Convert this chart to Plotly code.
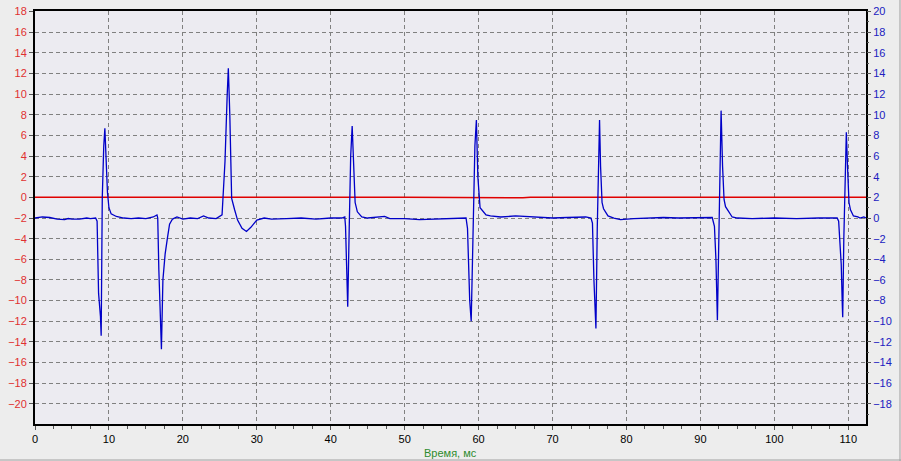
import plotly.graph_objects as go

# Blue signal (right axis units), time in ms
blue_t = [0, 1, 2, 3, 4, 4.5, 5, 6, 7, 7.5, 8.2,
          8.4, 8.6, 8.85, 8.95, 9.1, 9.3, 9.45, 9.6, 9.8, 10.0, 10.3, 11.0, 12, 13, 14, 15, 16, 16.5,
          16.6, 16.75, 16.9, 17.1, 17.3, 17.6, 17.9, 18.2, 18.6, 19.2, 20, 21, 22, 22.8, 23.5, 24.5, 25.3,
          25.45, 25.7, 26.0, 26.15, 26.35, 26.6, 27.0, 27.4, 28.0, 28.6, 29.2, 30.0, 31, 32, 34, 36, 38, 40, 41.5, 41.9,
          42.0, 42.15, 42.3, 42.5, 42.7, 42.9, 43.1, 43.3, 43.6, 44.2, 45, 47.3, 48, 50, 52, 54, 56, 58.3,
          58.5, 58.8, 59.0, 59.2, 59.5, 59.7, 59.9, 60.2, 61.0, 61.6, 63, 65, 68, 70, 72, 74.5, 75.2,
          75.4, 75.6, 75.87, 76.05, 76.25, 76.36, 76.5, 76.7, 76.9, 77.5, 78.3, 79.2, 81, 83, 85, 87, 89, 91.6,
          91.9, 92.1, 92.3, 92.5, 92.65, 92.8, 93.0, 93.2, 93.4, 94.3, 95, 97, 100, 103, 106, 108.5,
          108.7, 108.9, 109.05, 109.2, 109.25, 109.4, 109.6, 109.74, 109.9, 110.1, 110.3, 110.7, 111.3, 111.6, 112.1, 112.4]
blue_v = [0.0, 0.1, 0.05, -0.1, -0.15, -0.05, -0.1, -0.1, 0.0, -0.05, 0.0,
          -0.3, -7.3, -9.5, -11.4, 2.0, 7.0, 8.7, 6.0, 2.5, 1.0, 0.4, 0.15, 0.0, -0.05, 0.0, -0.05, 0.1, 0.3,
          0.0, -5.0, -9.0, -12.7, -6.0, -3.5, -2.0, -0.6, -0.1, 0.1, -0.1, 0.0, -0.05, 0.2, 0.0, -0.05, 0.3,
          2.0, 5.5, 12.0, 14.5, 10.0, 1.9, 0.8, -0.2, -1.0, -1.3, -0.9, -0.2, 0.0, -0.1, -0.05, 0.0, -0.1, 0.0, 0.0, 0.1,
          -0.8, -6.0, -8.6, -1.0, 6.0, 8.9, 5.0, 1.5, 0.6, 0.1, 0.0, 0.15, -0.05, -0.05, -0.15, -0.1, -0.1, 0.0,
          -1.0, -8.0, -10.0, -3.0, 7.0, 9.5, 4.0, 1.0, 0.3, 0.2, 0.1, 0.2, 0.1, 0.0, 0.05, 0.1, 0.0,
          -0.5, -6.0, -10.7, -1.0, 7.0, 9.5, 5.0, 1.5, 0.9, 0.2, 0.0, -0.15, -0.05, 0.0, 0.05, 0.0, 0.05, 0.05,
          -0.8, -4.0, -9.9, -2.0, 6.0, 10.4, 5.0, 1.8, 1.1, 0.1, 0.0, -0.05, 0.0, -0.05, 0.0, 0.0,
          -0.3, -3.4, -4.5, -8.6, -9.6, -2.0, 5.0, 8.3, 5.0, 1.5, 0.8, 0.2, 0.1, 0.0, 0.1, 0.0]

# Red signal (left axis units)
red_t = [0, 13.8, 14.0, 30, 50, 66, 67, 85, 100, 112.4]
red_v = [0.0, 0.0, 0.05, 0.0, 0.0, -0.03, 0.0, 0.0, 0.0, 0.0]

x_ticks = [0, 10, 20, 30, 40, 50, 60, 70, 80, 90, 100, 110]
x_title = "Время, мс"

fig = go.Figure()
fig.add_trace(go.Scatter(x=red_t, y=red_v, mode="lines",
                         line=dict(color="#E00000", width=1.5), yaxis="y", showlegend=False))
fig.add_trace(go.Scatter(x=blue_t, y=blue_v, mode="lines",
                         line=dict(color="#0000C8", width=1.3), yaxis="y2", showlegend=False))

font = dict(family="Liberation Sans, Arial, sans-serif", size=11)

fig.update_layout(
    width=901, height=461,
    margin=dict(l=35, r=35, t=11, b=37, autoexpand=False),
    paper_bgcolor="#EDEDED",
    plot_bgcolor="#ECEBF1",
    font=font,
    xaxis=dict(range=[0, 112.4], tickvals=x_ticks, showgrid=True, gridcolor="#808080",
               griddash="4px,3px", gridwidth=1, showline=True, linecolor="black", linewidth=2,
               mirror=True, ticks="outside", ticklen=4, tickcolor="#555555", automargin=False,
               minor=dict(dtick=2.5, tick0=0, ticks="outside", ticklen=3, tickcolor="#555555", showgrid=False),
               tickfont=dict(color="black", size=11), zeroline=False),
    yaxis=dict(range=[-21.95, 18.05], dtick=2, tick0=0, showgrid=True, gridcolor="#808080",
               griddash="4px,3px", gridwidth=1, showline=True, linecolor="black", linewidth=2,
               mirror=True, ticks="outside", ticklen=4, tickcolor="#555555", automargin=False,
               tickfont=dict(color="#E03030", size=11), zeroline=False),
    yaxis2=dict(range=[-19.95, 20.05], dtick=2, tick0=0, overlaying="y", side="right",
                showgrid=False, zeroline=False, ticks="outside", ticklen=4, tickcolor="#555555",
                automargin=False,
                minor=dict(dtick=1, tick0=0, ticks="outside", ticklen=2, tickcolor="#555555"),
                tickfont=dict(color="#2020C0", size=11)),
    annotations=[dict(text=x_title, xref="paper", yref="paper", x=0.5, y=-0.052,
                      xanchor="center", yanchor="top", showarrow=False,
                      font=dict(color="#2E8B2E", size=11))],
    shapes=[
        dict(type="line", xref="paper", yref="paper", x0=-0.05, x1=1.05, y0=-0.0872, y1=-0.0872,
             line=dict(color="#A0A0A0", width=1)),
        dict(type="line", xref="paper", yref="paper", x0=1.0409, x1=1.0409, y0=-0.1, y1=1.05,
             line=dict(color="#A0A0A0", width=1)),
    ],
)

fig.write_html("out.html",
               config={"displayModeBar": False},
               post_script="document.body.style.margin='0';document.body.style.padding='0';"
                           "document.body.style.overflow='hidden';")
